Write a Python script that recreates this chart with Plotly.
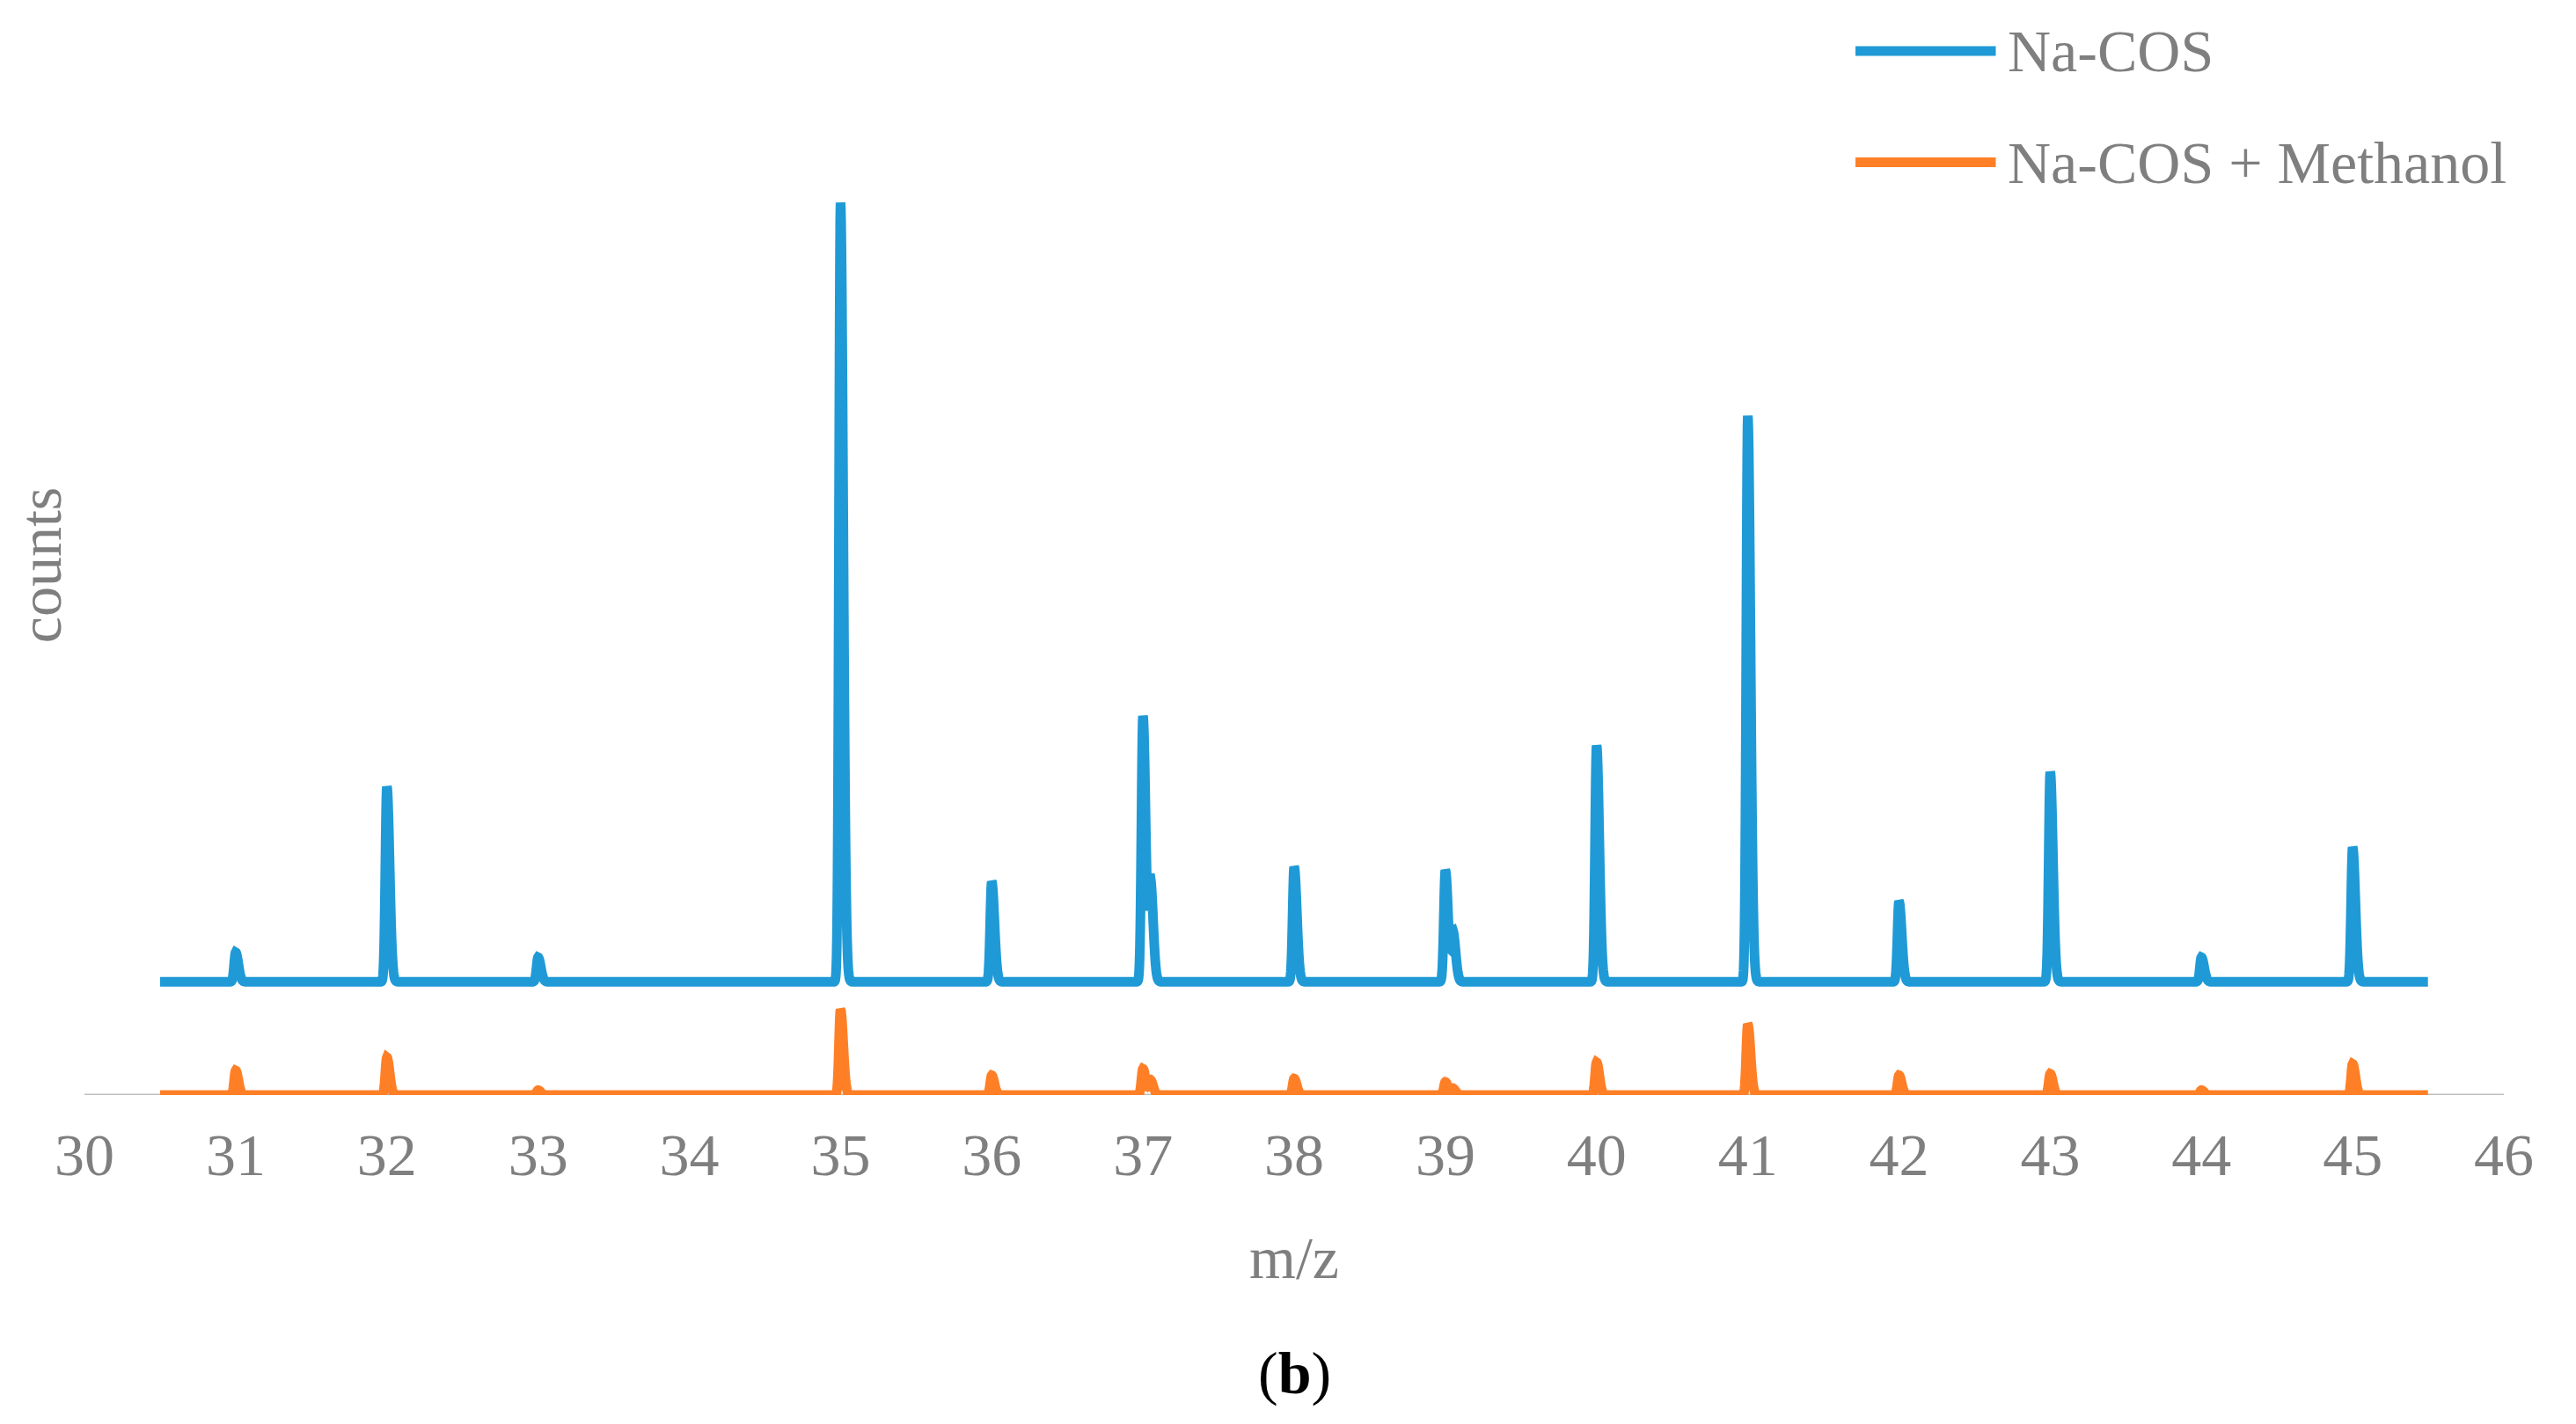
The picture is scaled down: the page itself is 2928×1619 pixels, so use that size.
import numpy as np
import plotly.graph_objects as go

# peak positions (m/z) and heights (relative counts)
peak_mz = [31, 32, 33, 35, 36, 37, 37.05, 38, 39, 39.05, 40, 41, 42, 43, 44, 45]
blue_h = [18, 119, 15, 475, 61, 162, 60, 70, 68, 30, 144, 345, 49, 128, 15, 82]
orange_h = [15, 23, 3, 52, 12, 16, 9, 10, 8, 4, 20, 43, 12, 13, 3, 19]
blue_offset = 69
x_start, x_end = 30.5, 45.5
tick_vals = list(range(30, 47))

x = np.arange(x_start, x_end, 0.002)

def spectrum(heights):
    y = np.zeros_like(x)
    for c, h in zip(peak_mz, heights):
        d = x - c
        s = np.where(d < 0, 0.010, 0.018)
        y += h * np.exp(-0.5 * (d / s) ** 2)
    return y

fig = go.Figure()
fig.add_trace(go.Scatter(x=x, y=spectrum(orange_h), mode="lines",
                         line=dict(color="#FF7F27", width=11, simplify=False), name="Na-COS + Methanol"))
fig.add_trace(go.Scatter(x=x, y=spectrum(blue_h) + blue_offset, mode="lines",
                         line=dict(color="#1F9AD6", width=11, simplify=False), name="Na-COS"))

font = dict(family="Liberation Serif", color="#7f7f7f", size=68)
fig.update_layout(
    width=2928, height=1619, paper_bgcolor="white", plot_bgcolor="white",
    margin=dict(l=84, r=90, t=32, b=382), showlegend=False, font=font,
    xaxis=dict(range=[30, 46], tickvals=tick_vals, showgrid=False, zeroline=False,
               showline=False, ticks="", tickfont=font, ticklabelstandoff=22,
               title=dict(text="m/z", font=font, standoff=55)),
    yaxis=dict(range=[0, 646], showticklabels=False, showgrid=False, zeroline=False,
               showline=False, title=dict(text="counts", font=font, standoff=28)),
)
fig.add_shape(type="line", xref="x", yref="y", x0=30, x1=46, y0=0, y1=0,
              line=dict(color="#bfbfbf", width=3), layer="below")
for yp, name, col in [(0.985, "Na-COS", "#1F9AD6"), (0.880, "Na-COS + Methanol", "#FF7F27")]:
    fig.add_shape(type="line", xref="paper", yref="paper", x0=0.732, x1=0.790, y0=yp, y1=yp,
                  line=dict(color=col, width=11))
    fig.add_annotation(xref="paper", yref="paper", x=0.794, y=yp, text=name, showarrow=False,
                       xanchor="left", yanchor="middle", font=font)
fig.add_annotation(xref="paper", yref="paper", x=0.5, y=-0.262, text="(<b>b</b>)", showarrow=False,
                   xanchor="center", yanchor="middle",
                   font=dict(family="Liberation Serif", color="black", size=68))
fig.write_html("out.html")
